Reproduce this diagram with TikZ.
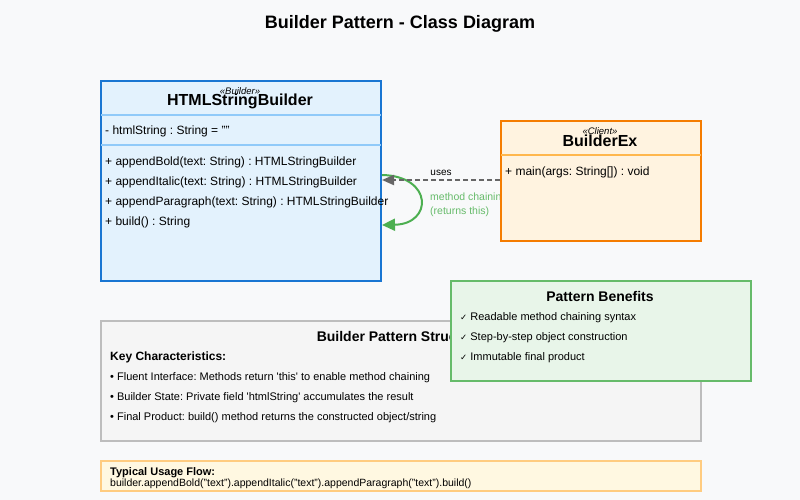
\documentclass[tikz,border=0pt]{standalone}
\usepackage{fontspec}
\setmainfont{Liberation Sans}
\newfontfamily\symfont{DejaVu Sans}
\usepackage{tikz}
\usetikzlibrary{arrows.meta,positioning,calc}
\definecolor{pagebg}{HTML}{F8F9FA}
\definecolor{umlblue}{HTML}{1976D2}
\definecolor{umlbluefill}{HTML}{E3F2FD}
\definecolor{umlbluesep}{HTML}{90CAF9}
\definecolor{umlorange}{HTML}{F57C00}
\definecolor{umlorangefill}{HTML}{FFF3E0}
\definecolor{umlorangesep}{HTML}{FFB74D}
\definecolor{notegray}{HTML}{BDBDBD}
\definecolor{notegrayfill}{HTML}{F5F5F5}
\definecolor{notegreen}{HTML}{66BB6A}
\definecolor{notegreenfill}{HTML}{E8F5E9}
\definecolor{flowedge}{HTML}{FFCC80}
\definecolor{flowfill}{HTML}{FFF8E1}
\definecolor{usesgray}{HTML}{666666}
\definecolor{chaingreen}{HTML}{4CAF50}
\newcommand{\tickmark}{{\symfont\fontsize{8.5}{10}\selectfont ✓}}
\newcommand{\fsz}[1]{\fontsize{#1}{#1}\selectfont}
\frenchspacing

\begin{document}
\begin{tikzpicture}[
  x=1pt, y=-1pt,
  font=\fsz{12},
  panel/.style={draw, line width=2pt, anchor=north west, inner sep=0pt},
  member/.style={anchor=base west, inner sep=0pt, font=\fsz{12}},
  item/.style={anchor=base west, inner sep=0pt, font=\fsz{11}},
  head/.style={inner sep=0pt, font=\bfseries\fsz{14}},
  stereo/.style={inner sep=0pt, font=\itshape\fsz{9.5}},
  usesar/.style={-{Triangle[length=12pt,width=10pt]}, line width=2pt, usesgray,
                 dash pattern=on 5pt off 3pt},
  chainar/.style={-{Triangle[length=13pt,width=12pt]}, line width=2pt, chaingreen}
]
\fill[pagebg] (0,0) rectangle (800,500);

\node[inner sep=0pt, font=\bfseries\fsz{18}] (title) at (400,24) {Builder Pattern - Class Diagram};

% structure note (partly hidden by the benefits box)
\node[panel, fill=notegrayfill, draw=notegray, minimum width=600pt, minimum height=120pt] (struct) at (100,320) {};
\node[head] (structhd) at (400,336) {Builder Pattern Structure};
\node[member, font=\bfseries\fsz{12}] (keyhd) at (110,360) {Key Characteristics:};
\node[item] (key1) at (110,380) {• Fluent Interface: Methods return \textquotesingle this\textquotesingle{} to enable method chaining};
\node[item] (key2) at (110,400) {• Builder State: Private field \textquotesingle htmlString\textquotesingle{} accumulates the result};
\node[item] (key3) at (110,420) {• Final Product: build() method returns the constructed object/string};

% benefits note
\node[panel, fill=notegreenfill, draw=notegreen, minimum width=300pt, minimum height=100pt] (benefit) at (450,280) {};
\node[head] (benefithd) at (600,296) {Pattern Benefits};
\node[item] (ben1) at (460,320) {\tickmark\ Readable method chaining syntax};
\node[item] (ben2) at (460,340) {\tickmark\ Step-by-step object construction};
\node[item] (ben3) at (460,360) {\tickmark\ Immutable final product};

% builder class
\node[panel, fill=umlbluefill, draw=umlblue, minimum width=280pt, minimum height=200pt] (builder) at (100,80) {};
\draw[umlbluesep, line width=2pt] ([xshift=1pt]builder.west |- 0,115) -- ([xshift=-1pt]builder.east |- 0,115);
\draw[umlbluesep, line width=2pt] ([xshift=1pt]builder.west |- 0,145) -- ([xshift=-1pt]builder.east |- 0,145);
\node[inner sep=0pt, font=\bfseries\fsz{16}] (buildername) at (240,101) {HTMLStringBuilder};
\node[stereo] (builderst) at (240,91) {«Builder»};
\node[member] (attr) at (105,135) {- htmlString : String = ""};
\node[member] (m1) at (105,165) {+ appendBold(text: String) : HTMLStringBuilder};
\node[member] (m2) at (105,185) {+ appendItalic(text: String) : HTMLStringBuilder};
\node[member] (m3) at (105,205) {+ appendParagraph(text: String) : HTMLStringBuilder};
\node[member] (m4) at (105,225) {+ build() : String};

% self call and its label
\node[anchor=west, inner sep=0pt, align=left, text=notegreen, font=\fsz{10.5}] (chainlbl) at (430,205)
  {method chaining\\[3pt](returns this)};
\draw[chainar] (builder.east |- 0,175) .. controls (433,176) and (433,224) .. (builder.east |- 0,225);

% client class
\node[panel, fill=umlorangefill, draw=umlorange, minimum width=200pt, minimum height=120pt] (client) at (500,120) {};
\draw[umlorangesep, line width=2pt] ([xshift=1pt]client.west |- 0,155) -- ([xshift=-1pt]client.east |- 0,155);
\node[inner sep=0pt, font=\bfseries\fsz{16}] (clientname) at (600,141) {BuilderEx};
\node[stereo] (clientst) at (600,131) {«Client»};
\node[member] (mainop) at (505,175) {+ main(args: String[]) : void};

\draw[usesar] (client.west |- 0,180) -- (builder.east |- 0,180)
  node[midway, above=3pt, text=black, font=\fsz{10}, inner sep=0pt] (useslbl) {uses};

% usage strip
\node[panel, fill=flowfill, draw=flowedge, line width=1.5pt, minimum width=600pt, minimum height=30pt] (flow) at (100,460) {};
\node[anchor=base west, inner sep=0pt, font=\bfseries\fsz{11}] (flowhd) at (110,475) {Typical Usage Flow:};
\node[anchor=base west, inner sep=0pt, font=\fsz{10.5}] (flowcode) at (110,486)
  {builder.appendBold("text").appendItalic("text").appendParagraph("text").build()};
\end{tikzpicture}
\end{document}
